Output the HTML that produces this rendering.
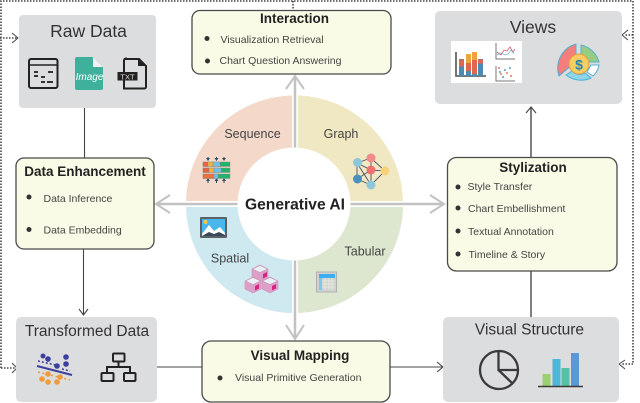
<!DOCTYPE html>
<html><head><meta charset="utf-8"><style>
html,body{margin:0;padding:0;background:#fff}
svg{display:block}
text{font-family:"Liberation Sans",sans-serif}
.t{font-size:17.5px;fill:#333;text-anchor:middle}
.b{font-size:13.5px;font-weight:bold;fill:#222;text-anchor:middle}
.i{font-size:10.5px;fill:#444}
.q{font-size:12.5px;fill:#444;text-anchor:middle}
.box{fill:#fafbe6;stroke:#4a4a4a;stroke-width:1.3}
.gr{fill:#dcddde}
.ln{stroke:#444;stroke-width:1.1;fill:none}
.dot{stroke:#444;stroke-width:1.6;stroke-dasharray:1.5 1.5;fill:none}
.ar{stroke:#c2c2c2;stroke-width:2.5;fill:none}
</style></head><body>
<svg width="640" height="403" viewBox="0 0 640 403" xmlns="http://www.w3.org/2000/svg">
<!-- dotted frame -->
<path class="dot" d="M1 368V1H633V364H622M1 368H15M0 38H18M633 35H625M293 1V10"/>
<path class="ln" d="M12 33l6 5-6 5M12 363l5 5-5 5M625 360l-6 4 6 5M628 30l-6 5 6 5" style="stroke-width:1"/>
<!-- donut -->
<path d="M292 95.500A108.500 108.500 0 0 0 186 201H292Z" fill="#f4d9ca"/>
<path d="M298 95.500A108.500 108.500 0 0 1 403 201H298Z" fill="#f0e8c3"/>
<path d="M186 207A108.500 108.500 0 0 0 292 313V207Z" fill="#cfe9f1"/>
<path d="M403 207A108.500 108.500 0 0 1 298 313V207Z" fill="#dde7cf"/>
<!-- gray arrows -->
<path class="ar" d="M295 76V339M156 204H444"/>
<path class="ar" d="M286 89L295 76L304 89M286 325L295 339L304 325M170 195L156 204L170 213M430 195L444 204L430 213" style="stroke-width:2"/>
<circle cx="294" cy="204" r="56.500" fill="#fff"/>
<text x="295" y="209.500" text-anchor="middle" style="font-size:16px;font-weight:bold;fill:#222" textLength="100" lengthAdjust="spacingAndGlyphs">Generative AI</text>
<text class="q" x="252.500" y="138">Sequence</text>
<text class="q" x="341" y="138">Graph</text>
<text class="q" x="230" y="262.500">Spatial</text>
<text class="q" x="365" y="255.500">Tabular</text>
<!-- solid connectors -->
<path class="ln" d="M84.500 108V158M83.500 249V314M157 367H202M390 367H442"/>
<path d="M531 317V271M531 157V107" fill="none" stroke="#555" stroke-width="1.500"/>
<path class="ln" d="M79 309l4.500 6 4.500-6M437 362l6 5-6 5M526 113l5-6 5 6"/>
<!-- Raw Data -->
<rect class="gr" x="19" y="15" width="137" height="93" rx="4"/>
<text class="t" x="88.500" y="37">Raw Data</text>
<rect x="29" y="59" width="28.500" height="29" rx="2" fill="none" stroke="#222" stroke-width="2"/>
<path d="M29 65H58" stroke="#222" stroke-width="1.600"/>
<path d="M34 72h4M48 72h5M34 76h4M41 77h4M41 82h4M47 82h6" stroke="#333" stroke-width="2"/>
<path d="M77 57H93L103 67V88a2 2 0 0 1-2 2H77a2 2 0 0 1-2-2V59a2 2 0 0 1 2-2Z" fill="#3fb09c"/>
<path d="M93 57L103 67H93Z" fill="#f2f2f2"/>
<text x="89.500" y="80" text-anchor="middle" style="font-size:10px;font-style:italic;fill:#fff">Image</text>
<path d="M126 59H139L146 66V87a1.500 1.500 0 0 1-1.500 1.500H124V60.500a2 2 0 0 1 2-2Z" fill="none" stroke="#222" stroke-width="2"/>
<path d="M138 58L146 66H138Z" fill="#222"/>
<rect x="117.500" y="72" width="20" height="8.500" fill="#222"/>
<text x="127.500" y="79.500" text-anchor="middle" style="font-size:7.500px;fill:#ddd">TXT</text>
<!-- Interaction -->
<rect class="box" x="192" y="10.500" width="199" height="63.500" rx="8"/>
<text class="b" x="294.500" y="23">Interaction</text>
<circle cx="207" cy="38.500" r="2.500" fill="#333"/><circle cx="207.500" cy="61" r="2.500" fill="#333"/>
<text class="i" x="220.500" y="43">Visualization Retrieval</text>
<text class="i" x="219.500" y="64">Chart Question Answering</text>
<!-- Views -->
<rect class="gr" x="435" y="11" width="187" height="93" rx="5"/>
<text class="t" x="533" y="33">Views</text>
<rect x="451" y="41" width="71" height="42" fill="#fff"/>
<path d="M456 52V76H486" fill="none" stroke="#666" stroke-width="1.800"/>
<rect x="459" y="59" width="5" height="17" fill="#4a8ab5"/><rect x="459" y="59.500" width="5" height="7" fill="#e0674d"/>
<rect x="466" y="54" width="5" height="22" fill="#e0674d"/><rect x="466" y="54" width="5" height="9" fill="#efa340"/><rect x="466" y="71" width="5" height="5" fill="#4a8ab5"/>
<rect x="472" y="52" width="5" height="24" fill="#e0674d"/><rect x="472" y="52" width="5" height="8" fill="#efa340"/><rect x="472" y="74" width="5" height="2" fill="#4a8ab5"/>
<rect x="478" y="59" width="5" height="17" fill="#4a8ab5"/><rect x="478" y="59.500" width="5" height="4" fill="#e0674d"/>
<path d="M496 43V59H515M496 66V81H515" fill="none" stroke="#777" stroke-width="1"/>
<path d="M497 52l4 3 3-5 3 1 3-4 3 5 2-3" fill="none" stroke="#d1607a" stroke-width=".8"/>
<path d="M497 55l4-2 4 2 3-1 3-4 3 4" fill="none" stroke="#7ab2c8" stroke-width=".8"/>
<g fill="#5b9ec0"><circle cx="500" cy="72" r="1"/><circle cx="505" cy="70" r="1"/><circle cx="510" cy="68" r="1"/><circle cx="503" cy="77" r="1"/></g>
<g fill="#e07a5f"><circle cx="499" cy="68" r="1"/><circle cx="507" cy="73" r="1"/><circle cx="501" cy="74" r="1"/><circle cx="511" cy="76" r="1"/></g>
<path d="M576 44A25 25 0 0 0 559 76L572 65A9 9 0 0 1 576 59Z" fill="#f57d7d" stroke="#4eb2d4" stroke-width="1"/>
<path d="M581 45A24 24 0 0 1 599 62H586L581 58Z" fill="#97cc84" stroke="#4eb2d4" stroke-width="1"/>
<path d="M591 65H599A20 20 0 0 1 593 76L587 72Z" fill="#fff" stroke="#4eb2d4" stroke-width="1"/>
<path d="M566 75L572 71A10 10 0 0 0 585 73L591 78A24 24 0 0 1 566 75Z" fill="#8ed5ea" stroke="#4eb2d4" stroke-width="1"/>
<circle cx="579" cy="64" r="10" fill="#f6cd62" stroke="#e59d3c" stroke-width="1"/>
<text x="579" y="69.500" text-anchor="middle" style="font-size:14px;font-weight:bold;fill:#1f86b8">$</text>
<!-- Data Enhancement -->
<rect class="box" x="16" y="158" width="138" height="91" rx="8"/>
<text class="b" x="85" y="176">Data Enhancement</text>
<circle cx="29" cy="197" r="2.500" fill="#333"/><circle cx="29" cy="229.500" r="2.500" fill="#333"/>
<text class="i" x="43.500" y="202">Data Inference</text>
<text class="i" x="43.500" y="233.500">Data Embedding</text>
<!-- Stylization -->
<rect class="box" x="447.500" y="157.500" width="169.500" height="113.500" rx="9"/>
<text class="b" x="533" y="172">Stylization</text>
<g fill="#333"><circle cx="458" cy="187" r="2.500"/><circle cx="458" cy="208" r="2.500"/><circle cx="458" cy="231" r="2.500"/><circle cx="458" cy="254" r="2.500"/></g>
<text class="i" x="467.500" y="190">Style Transfer</text>
<text class="i" x="468" y="212">Chart Embellishment</text>
<text class="i" x="468" y="235">Textual Annotation</text>
<text class="i" x="468.500" y="258">Timeline &amp; Story</text>
<!-- Transformed Data -->
<rect class="gr" x="16" y="317" width="141" height="85" rx="5"/>
<text class="t" x="87" y="336" style="font-size:15.500px">Transformed Data</text>
<g fill="#3d3f9e"><circle cx="43" cy="356" r="2.500"/><circle cx="48" cy="359" r="2.800"/><circle cx="57" cy="366" r="2.800"/><circle cx="66" cy="357" r="2.800"/><circle cx="66" cy="364" r="2.800"/></g>
<path d="M37 366L72 375" stroke="#3d3f9e" stroke-width="2"/>
<path d="M38 361L60 366M62 369L70 371" stroke="#3d3f9e" stroke-width="1.500" stroke-dasharray="2 2"/>
<path d="M38 372L70 380" stroke="#ee9b3a" stroke-width="1.500" stroke-dasharray="2 2.500"/>
<g fill="#ee9b3a"><circle cx="42" cy="379" r="2.800"/><circle cx="48" cy="374" r="2.800"/><circle cx="48" cy="382" r="2.800"/><circle cx="60" cy="377" r="2.800"/><circle cx="57" cy="382" r="2.800"/></g>
<g fill="none" stroke="#222" stroke-width="2"><rect x="113" y="353.500" width="11.500" height="8" rx="1"/><rect x="101.500" y="373" width="12" height="8" rx="1"/><rect x="124" y="373" width="11.500" height="8" rx="1"/><path d="M118.500 361.500V367M107 373V367H130V373"/></g>
<!-- Visual Mapping -->
<rect class="box" x="202" y="341" width="188" height="61" rx="9"/>
<text class="b" x="300" y="360">Visual Mapping</text>
<circle cx="220" cy="378" r="2.500" fill="#333"/>
<text class="i" x="235" y="381">Visual Primitive Generation</text>
<!-- Visual Structure -->
<rect class="gr" x="443" y="317" width="176" height="85" rx="5"/>
<text class="t" x="529.500" y="334.500" style="font-size:15.500px">Visual Structure</text>
<g fill="none" stroke="#3a3a3a" stroke-width="2.300"><circle cx="499" cy="370" r="19"/><path d="M498.500 351V370H518M498.500 370L512 383"/></g>
<rect x="542.500" y="374" width="8" height="12" fill="#9bcf72"/><rect x="552.500" y="359" width="8" height="27" fill="#4fb6d8"/><rect x="561.500" y="368" width="8" height="18" fill="#57c0a4"/><rect x="571" y="353" width="8" height="33" fill="#5b97d5"/>
<path d="M538 386.500H583" stroke="#3a3a3a" stroke-width="1.600"/>
<!-- Sequence icon -->
<g>
<path d="M208 160V157M216.500 160V157M224 160V157M208 180V183M216.500 180V183M224 180V183" stroke="#2b4a66" stroke-width="1"/>
<g fill="#2b4a66"><path d="M206 158l2 3 2-3ZM214.500 158l2 3 2-3ZM222 158l2 3 2-3ZM206 181l2-3 2 3ZM214.500 181l2-3 2 3ZM222 181l2-3 2 3Z"/></g>
<g stroke="#888" stroke-width=".4">
<rect x="203" y="162" width="27" height="4.500" fill="#23b26b"/><rect x="203" y="162" width="5" height="4.500" fill="#e9623f"/><rect x="208" y="162" width="5" height="4.500" fill="#f2b33d"/><rect x="213" y="162" width="7" height="4.500" fill="#74bfe6"/>
<rect x="203" y="168" width="27" height="4.500" fill="#23b26b"/><rect x="203" y="168" width="6" height="4.500" fill="#e9623f"/><rect x="209" y="168" width="5" height="4.500" fill="#f2b33d"/><rect x="214" y="168" width="7" height="4.500" fill="#74bfe6"/>
<rect x="203" y="174" width="27" height="4.500" fill="#23b26b"/><rect x="203" y="174" width="11" height="4.500" fill="#e9723f"/><rect x="214" y="174" width="4" height="4.500" fill="#74bfe6"/>
</g></g>
<!-- Graph icon -->
<g stroke="#4d4d6a" stroke-width=".9" fill="none"><path d="M357 163L371 158L385 171L371 185L357 179ZM371 158V170M357 163L371 170L385 171M357 179L371 170M357 163L371 185M371 170V185"/></g>
<circle cx="357.500" cy="162.500" r="4.500" fill="#8ec8d8"/><circle cx="371" cy="158" r="4.500" fill="#f28b8b"/><circle cx="371" cy="170" r="4.500" fill="#ec7170"/><circle cx="385" cy="171" r="4.500" fill="#f6d37a"/><circle cx="357.500" cy="179" r="4.500" fill="#4c90bb"/><circle cx="371" cy="185" r="4.500" fill="#8ec8d8"/>
<!-- Spatial image icon -->
<rect x="200" y="217" width="27" height="21" fill="#5a6068" rx="1"/>
<rect x="202" y="219" width="23" height="17" fill="#49b6ec"/>
<circle cx="205.500" cy="222" r="2" fill="#f8c93f"/>
<path d="M202 234L209 225L214 231L220 227L225 233V236H202Z" fill="#fff"/>
<path d="M202 236L209 232L214 234L219 232L225 235V236Z" fill="#384a57"/>
<!-- Cubes -->
<g stroke="#cf91bb" stroke-width=".6">
<path d="M260 265L268 269V278L260 282L252 278V269Z" fill="#dca0c8"/>
<path d="M252.500 269L260 265.500L267.500 269L260 272.500Z" fill="#e8f2f4"/>
<path d="M253 277L261 281V289L253 293L245 289V281Z" fill="#dca0c8"/>
<path d="M245.500 281L253 277.500L260.500 281L253 284.500Z" fill="#e8f2f4"/>
<path d="M270 277L278 281V289L270 293L262 289V281Z" fill="#dca0c8"/>
<path d="M262.500 281L270 277.500L277.500 281L270 284.500Z" fill="#e8f2f4"/>
</g>
<path d="M263 274l4-2v4.500l-4 2ZM255 286l4-2v4.500l-4 2ZM272 286l4-2v4.500l-4 2Z" fill="#d92582"/>
<!-- Tabular icon -->
<rect x="316.500" y="272" width="20" height="20" fill="#cfd2cf" stroke="#b0b0b0" stroke-width="1"/>
<rect x="319" y="274" width="16" height="4" fill="#3aaef0"/>
<rect x="319" y="278" width="3" height="12" fill="#7cc8f0"/>
<path d="M322 281H335M322 284H335M322 287H335M325 278V290M329 278V290M332 278V290" stroke="#eef0e6" stroke-width=".7"/>
</svg>
</body></html>
